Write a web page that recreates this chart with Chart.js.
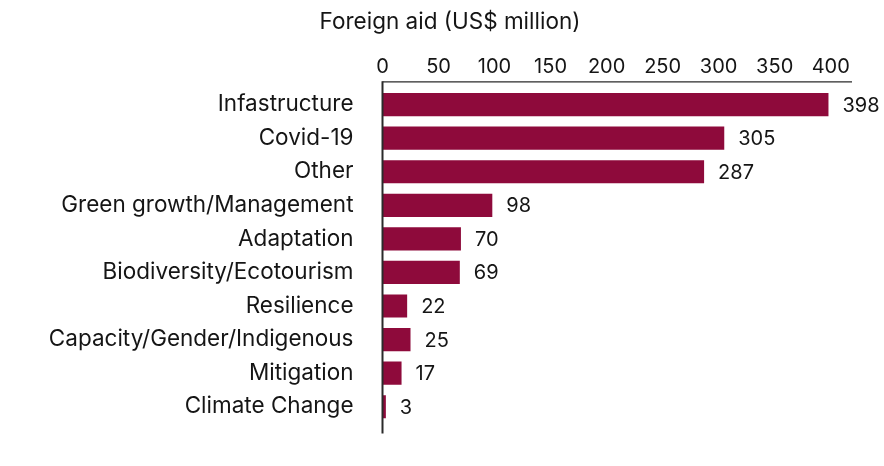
<!DOCTYPE html>
<html>
<head>
<meta charset="utf-8">
<script src="https://cdn.jsdelivr.net/npm/chart.js@4.4.1/dist/chart.umd.min.js"></script>
<style>
  html, body { margin: 0; padding: 0; background: #ffffff; }
  #wrap { width: 884px; height: 466px; }
</style>
</head>
<body>
<div id="wrap"><canvas id="c" width="884" height="466"></canvas></div>
<script>
const categories = [
  "Infastructure", "Covid-19", "Other", "Green growth/Management", "Adaptation",
  "Biodiversity/Ecotourism", "Resilience", "Capacity/Gender/Indigenous", "Mitigation", "Climate Change"
];
const aidValues = [398, 305, 287, 98, 70, 69, 22, 25, 17, 3];
const xTickStep = 50;
const xMax = 419;
const chartTitle = "Foreign aid (US$ million)";

const FONT = "Inter";
const TEXT = "#151515";
const BAR = "#8e0a3b";

const valueLabels = {
  id: 'valueLabels',
  afterDatasetsDraw(chart) {
    const ctx = chart.ctx;
    const meta = chart.getDatasetMeta(0);
    ctx.save();
    ctx.font = "20px " + FONT;
    ctx.fillStyle = TEXT;
    ctx.textAlign = 'left';
    ctx.textBaseline = 'middle';
    meta.data.forEach((el, i) => {
      ctx.fillText(String(aidValues[i]), el.x + 14, el.y + 1);
    });
    ctx.restore();
  }
};

const axisLines = {
  id: 'axisLines',
  afterDraw(chart) {
    const ctx = chart.ctx;
    const a = chart.chartArea;
    ctx.save();
    ctx.strokeStyle = "#2a2a2a";
    ctx.lineWidth = 1.2;
    ctx.beginPath();
    ctx.moveTo(a.left, a.top - 6);
    ctx.lineTo(a.right, a.top - 6);
    ctx.stroke();
    ctx.lineWidth = 2;
    ctx.beginPath();
    ctx.moveTo(a.left, a.top - 6.5);
    ctx.lineTo(a.left, a.bottom + 10);
    ctx.stroke();
    ctx.restore();
  }
};

new Chart(document.getElementById('c'), {
  type: 'bar',
  data: {
    labels: categories,
    datasets: [{
      data: aidValues,
      backgroundColor: BAR,
      borderWidth: 0,
      barPercentage: 0.69,
      categoryPercentage: 1.0
    }]
  },
  options: {
    indexAxis: 'y',
    responsive: false,
    animation: false,
    devicePixelRatio: 1,
    layout: { padding: { left: 48, right: 32, top: 0, bottom: 40 } },
    plugins: {
      legend: { display: false },
      tooltip: { enabled: false },
      title: {
        display: true,
        text: chartTitle,
        color: TEXT,
        font: { family: FONT, size: 22.5, weight: 'normal' },
        padding: { top: 8.5, bottom: 0 }
      }
    },
    scales: {
      x: {
        position: 'top',
        min: 0,
        max: xMax,
        grid: { display: false, drawTicks: false },
        border: { display: false },
        afterFit(scale) { scale.height = 52.3; },
        ticks: {
          stepSize: xTickStep,
          includeBounds: false,
          padding: 9,
          color: TEXT,
          font: { family: FONT, size: 20 },
          maxRotation: 0,
          callback: (v) => (v % xTickStep === 0 ? String(v) : '')
        }
      },
      y: {
        grid: { display: false, drawTicks: false },
        border: { display: false },
        afterFit(scale) { scale.width = 334.5; },
        ticks: {
          padding: 29,
          color: TEXT,
          font: { family: FONT, size: 22.5 }
        }
      }
    }
  },
  plugins: [valueLabels, axisLines]
});
</script>
</body>
</html>
